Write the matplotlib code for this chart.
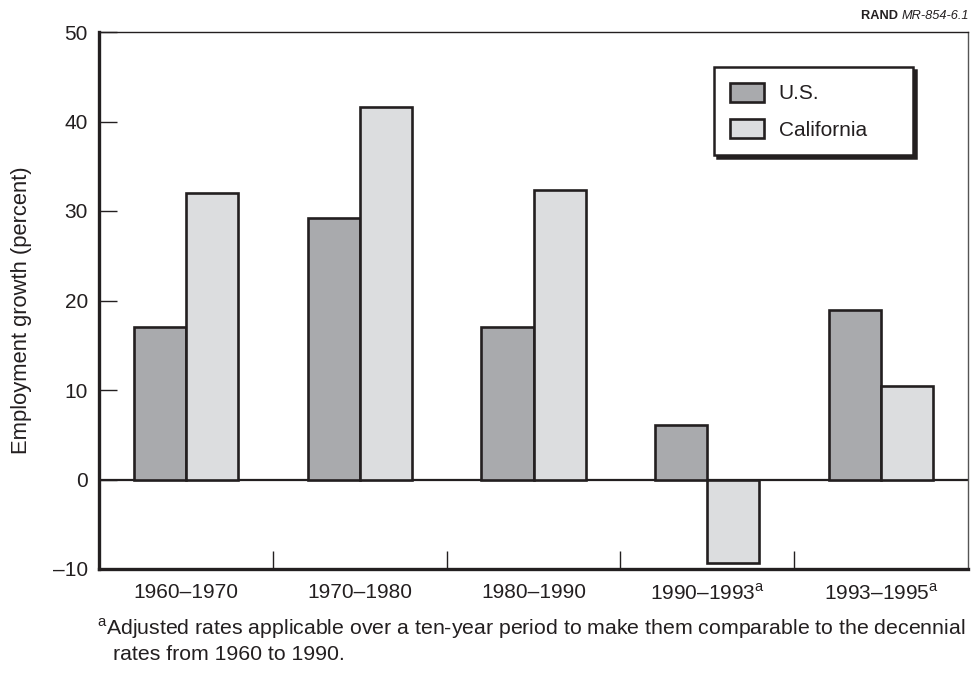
import numpy as np
import matplotlib
matplotlib.use("Agg")
import matplotlib.pyplot as plt
from matplotlib.patches import Patch

# data
periods = ["1960–1970", "1970–1980", "1980–1990",
           "1990–1993$^{\\mathrm{a}}$", "1993–1995$^{\\mathrm{a}}$"]
us_growth = [17.0, 29.2, 17.0, 6.1, 18.9]
ca_growth = [32.0, 41.6, 32.3, -9.3, 10.4]
series_names = ["U.S.", "California"]
yticks = [-10, 0, 10, 20, 30, 40, 50]

ink = "#231f20"
us_color = "#a9aaad"
ca_color = "#dcdddf"

plt.rcParams["font.family"] = ["Liberation Sans", "DejaVu Sans"]
plt.rcParams["mathtext.fontset"] = "custom"
plt.rcParams["mathtext.rm"] = "Liberation Sans"
plt.rcParams["text.color"] = ink

fig = plt.figure(figsize=(9.74, 6.79), dpi=100)
W, H = 974, 679
ax = fig.add_axes([99 / W, 1 - 569 / H, (968 - 99) / W, (569 - 32) / H])

x = np.arange(len(periods))
w = 0.3
ax.bar(x - w / 2, us_growth, w, color=us_color, edgecolor=ink, linewidth=1.9, zorder=3)
ax.bar(x + w / 2, ca_growth, w, color=ca_color, edgecolor=ink, linewidth=1.9, zorder=3)
ax.axhline(0, color=ink, linewidth=1.6, zorder=2)

ax.set_xlim(-0.5, 4.5)
ax.set_ylim(-10, 50)
ax.set_yticks(yticks)
ax.set_yticklabels(["–10"] + [str(v) for v in yticks[1:]])
ax.set_xticks(x)
ax.set_xticklabels(periods)
ax.set_xticks(x[:-1] + 0.5, minor=True)

ax.tick_params(axis="y", direction="in", length=13, width=1.0, color=ink,
               labelsize=15, labelcolor=ink, pad=8)
ax.tick_params(axis="x", which="major", length=0, labelsize=15, labelcolor=ink, pad=10)
ax.tick_params(axis="x", which="minor", direction="in", length=13, width=1.0, color=ink)

for side in ["left", "bottom"]:
    ax.spines[side].set_linewidth(2.4)
    ax.spines[side].set_color(ink)
ax.spines["top"].set_linewidth(1.0)
ax.spines["top"].set_color(ink)
ax.spines["right"].set_linewidth(1.0)
ax.spines["right"].set_color("#555555")

fig.text(22 / W, 1 - 310 / H, "Employment growth (percent)", rotation=90,
         ha="center", va="center", fontsize=15.8, color=ink)

handles = [Patch(facecolor=us_color, edgecolor=ink, linewidth=1.9, label=series_names[0]),
           Patch(facecolor=ca_color, edgecolor=ink, linewidth=1.9, label=series_names[1])]
leg = ax.legend(handles=handles, loc="upper left",
                bbox_to_anchor=(714 / W, 1 - 158 / H, (913 - 714) / W, (158 - 67) / H),
                bbox_transform=fig.transFigure, mode="expand", borderaxespad=0,
                fontsize=15, frameon=True, fancybox=False, edgecolor=ink,
                borderpad=0.75, handlelength=1.65, handleheight=1.05,
                handletextpad=0.7, labelspacing=0.75,
                shadow={"color": ink, "alpha": 1.0})
leg.get_frame().set_linewidth(1.8)
leg.set_zorder(5)

# source tag
tag = fig.text(969 / W, 1 - 19 / H, "MR-854-6.1", ha="right", va="baseline",
               fontsize=9.2, style="italic", color=ink)
ax.annotate("RAND ", xy=(0, 0), xycoords=tag, ha="right", va="bottom",
            fontsize=9.2, fontweight="bold", color=ink)

# footnote
fig.text(97 / W, 1 - 635 / H, "$^{\\mathrm{a}}$Adjusted rates applicable over a ten-year period "
         "to make them comparable to the decennial", fontsize=15.3, color=ink, va="baseline")
fig.text(113 / W, 1 - 660 / H, "rates from 1960 to 1990.", fontsize=15.3, color=ink, va="baseline")

fig.savefig("out.png", dpi=100)
